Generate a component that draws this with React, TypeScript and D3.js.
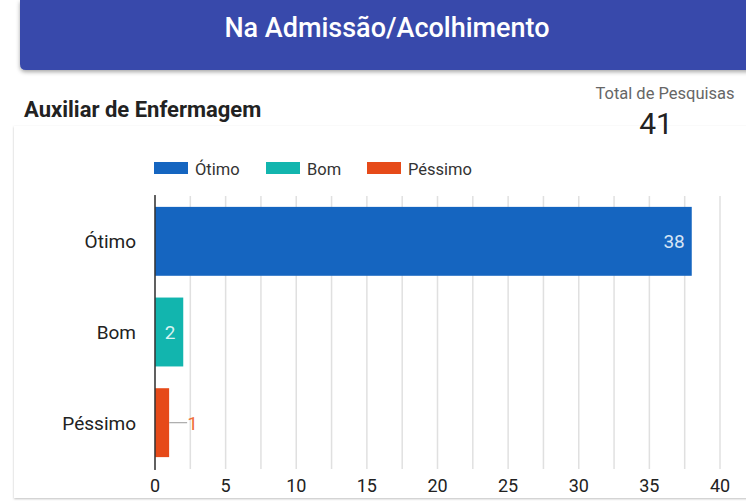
import React from "react";
import * as d3 from "d3";

const categories = ["Ótimo", "Bom", "Péssimo"];
const values = [38, 2, 1];
const colors = ["#1565C0", "#12B5AE", "#E64A19"];
const xTicks = [0, 5, 10, 15, 20, 25, 30, 35, 40];
const gridValues = d3.range(0, 40.01, 2.5);
const title = "Na Admissão/Acolhimento";
const subtitle = "Auxiliar de Enfermagem";
const totalLabel = "Total de Pesquisas";
const totalValue = 41;

export default function App() {
  const W = 746, H = 502;
  const x = d3.scaleLinear().domain([0, 40]).range([155, 720]);
  const y = d3.scaleBand().domain(categories).range([196, 468]).paddingInner(0.24).paddingOuter(0.12);
  const font = "Roboto, 'Noto Sans', sans-serif";
  const legendX = [154, 266, 367];
  return (
    <svg width={W} height={H} style={{ position: "absolute", left: 0, top: 0 }} fontFamily={font}>
      <defs>
        <filter id="sh" x="-5%" y="-20%" width="110%" height="150%">
          <feDropShadow dx="0" dy="2" stdDeviation="2" floodColor="#000" floodOpacity="0.35" />
        </filter>
        <filter id="sh2" x="-5%" y="-5%" width="110%" height="110%">
          <feDropShadow dx="0" dy="1" stdDeviation="1.2" floodColor="#000" floodOpacity="0.25" />
        </filter>
      </defs>
      <rect width={W} height={H} fill="#fff" />
      <path d="M20,0 H760 V70 H26 Q20,70 20,64 Z" fill="#3949AB" filter="url(#sh)" />
      <text x={387} y={37} textAnchor="middle" fill="#fff" fontSize={27} fontWeight={500}>{title}</text>
      <text x={24} y={117} fontSize={22} fontWeight={700} fill="#222">{subtitle}</text>
      <rect x={14} y={126} width={740} height={372} fill="#fff" filter="url(#sh2)" />
      <text x={665} y={99} textAnchor="middle" fontSize={16.5} fill="#666">{totalLabel}</text>
      <text x={656} y={134} textAnchor="middle" fontSize={30} fill="#222">{totalValue}</text>
      {/* legend */}
      {categories.map((c, i) => {
        const lx = legendX[i];
        return (
          <g key={c}>
            <rect x={lx} y={162} width={34} height={12} fill={colors[i]} />
            <text x={lx + 41} y={175} fontSize={16.5} fill="#333">{c}</text>
          </g>
        );
      })}
      {/* grid */}
      {gridValues.map((v) => (
        <line key={v} x1={x(v)} x2={x(v)} y1={196} y2={469} stroke="#e0e0e0" strokeWidth={1.5} />
      ))}
      {/* bars */}
      {categories.map((c, i) => (
        <rect key={c} x={x(0)} y={y(c)} width={x(values[i]) - x(0)} height={y.bandwidth()} fill={colors[i]} />
      ))}
      <line x1={x(0)} x2={x(0)} y1={195} y2={470} stroke="#333" strokeWidth={1.5} />
      {/* category labels */}
      {categories.map((c) => (
        <text key={c} x={136} y={y(c)! + y.bandwidth() / 2 + 7} textAnchor="end" fontSize={19} fill="#222">{c}</text>
      ))}
      {/* value labels */}
      <text x={x(values[0]) - 7} y={y(categories[0])! + y.bandwidth() / 2 + 7} textAnchor="end" fontSize={19} fill="#d6e4f5">{values[0]}</text>
      <text x={(x(0) + x(values[1])) / 2 + 1} y={y(categories[1])! + y.bandwidth() / 2 + 7} textAnchor="middle" fontSize={19} fill="#d9f4f2">{values[1]}</text>
      <line x1={x(values[2])} x2={x(values[2]) + 18} y1={y(categories[2])! + y.bandwidth() / 2} y2={y(categories[2])! + y.bandwidth() / 2} stroke="#aaa" strokeWidth={1.2} />
      <text x={x(values[2]) + 18} y={y(categories[2])! + y.bandwidth() / 2 + 7} fontSize={19} fill="#F0703A">{values[2]}</text>
      {/* ticks */}
      {xTicks.map((t) => (
        <text key={t} x={x(t)} y={492} textAnchor="middle" fontSize={18} fill="#222">{t}</text>
      ))}
    </svg>
  );
}
